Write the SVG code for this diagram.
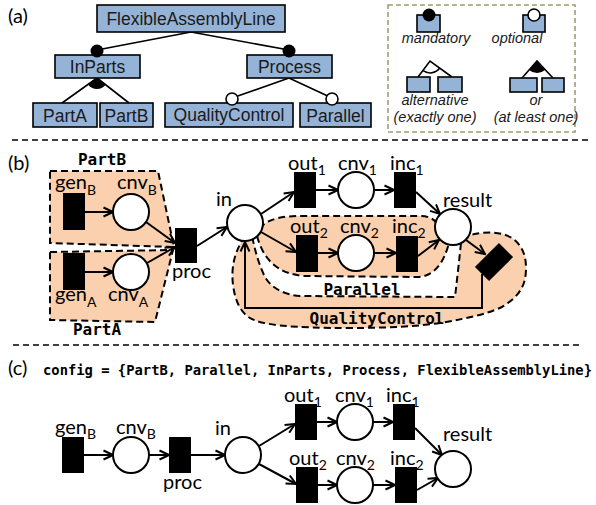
<svg xmlns="http://www.w3.org/2000/svg" width="596" height="505" viewBox="0 0 596 505">
<style>
.fb{fill:#95B3D7;stroke:#000;stroke-width:1.6}
.ft{font-family:"Liberation Sans",Arial,sans-serif;font-size:17.5px;fill:#1a1a1a;text-anchor:middle}
.lt{font-family:"Liberation Sans",Arial,sans-serif;font-size:14.5px;font-style:italic;fill:#1a1a1a;text-anchor:middle}
.ln{stroke:#000;stroke-width:1.6;fill:none}
.sec{font-family:Lato,"Liberation Sans",sans-serif;font-size:20px;fill:#000}
.lb{font-family:Lato,"Liberation Sans",sans-serif;font-size:20px;fill:#000}
.sub{font-size:14px}
.mono{font-family:"DejaVu Sans Mono","Liberation Mono",monospace;font-weight:bold;font-size:16px;fill:#000;text-anchor:middle}
.tr{fill:#000}
.pl{fill:#fff;stroke:#000;stroke-width:2}
.ar{stroke:#000;stroke-width:2;fill:none;marker-end:url(#ah)}
.rg{fill:#FAD0AE;stroke:#000;stroke-width:2;stroke-dasharray:7 4}
.sep{stroke:#000;stroke-width:1.5;stroke-dasharray:6 4;fill:none}
</style>
<defs>
<marker id="ah" viewBox="0 0 12 12" refX="10.5" refY="6" markerWidth="12" markerHeight="12" markerUnits="userSpaceOnUse" orient="auto">
<path d="M1,1.5 L10.5,6 L1,10.5" fill="none" stroke="#000" stroke-width="2"/>
</marker>
</defs>

<!-- (a) feature model -->
<text class="sec" x="8" y="23">(a)</text>
<g id="connectors-a">
<path class="ln" d="M191,32 L97,50 M191,32 L289,50"/>
<path class="ln" d="M97,78 L62,103 M97,78 L129,103"/>
<path d="M97,78 L88.1,84.4 A11,11 0 0 0 105.7,84.8 Z" fill="#000"/>
<path class="ln" d="M289,78 L232,98 M289,78 L332,98"/>
</g>
<g id="FlexibleAssemblyLine"><rect class="fb" x="97" y="5" width="188" height="27"/><text class="ft" x="191" y="25">FlexibleAssemblyLine</text></g>
<g id="InParts"><rect class="fb" x="55" y="55" width="85" height="23"/><text class="ft" x="97.5" y="73">InParts</text><circle cx="97" cy="51" r="6.5" fill="#000"/></g>
<g id="Process"><rect class="fb" x="247" y="55" width="85" height="23"/><text class="ft" x="289.5" y="73">Process</text><circle cx="289" cy="51" r="6.5" fill="#000"/></g>
<g id="PartA"><rect class="fb" x="33" y="103" width="64" height="24"/><text class="ft" x="65" y="122">PartA</text></g>
<g id="PartB"><rect class="fb" x="100" y="103" width="53" height="24"/><text class="ft" x="126.5" y="122">PartB</text></g>
<g id="QualityControl"><rect class="fb" x="165" y="103" width="128" height="24"/><text class="ft" x="229" y="121">QualityControl</text><circle cx="232" cy="99" r="6" fill="#fff" stroke="#000" stroke-width="1.6"/></g>
<g id="Parallel"><rect class="fb" x="300" y="103" width="71" height="24"/><text class="ft" x="335.5" y="122">Parallel</text><circle cx="332" cy="99" r="6" fill="#fff" stroke="#000" stroke-width="1.6"/></g>

<g id="legend">
<rect x="388" y="5" width="187" height="127" fill="none" stroke="#A39B76" stroke-width="1.6" stroke-dasharray="5 3"/>
<rect class="fb" x="417" y="15" width="23" height="17"/><circle cx="429" cy="15" r="6.5" fill="#000"/>
<text class="lt" x="436" y="43">mandatory</text>
<rect class="fb" x="523" y="15" width="22" height="17"/><circle cx="534" cy="15" r="6" fill="#fff" stroke="#000" stroke-width="1.6"/>
<text class="lt" x="517" y="43">optional</text>
<path class="ln" d="M418,77 L430,61 L452,77"/>
<path class="ln" d="M423.1,70.7 A12,12 0 0 0 439.7,68.1"/>
<rect class="fb" x="407" y="77" width="23" height="15"/><rect class="fb" x="438" y="77" width="24" height="15"/>
<text class="lt" x="435" y="105">alternative</text>
<text class="lt" x="435" y="122">(exactly one)</text>
<path class="ln" d="M522,78 L537,61 L553,78"/>
<path d="M537,61 L529.1,70 A12,12 0 0 0 545,69.9 Z" fill="#000"/>
<rect class="fb" x="510" y="78" width="27" height="14"/><rect class="fb" x="542" y="78" width="22" height="14"/>
<text class="lt" x="536" y="105">or</text>
<text class="lt" x="536" y="122">(at least one)</text>
</g>

<path class="sep" d="M12,140 L588,140"/>

<!-- (b) -->
<text class="sec" x="8" y="170">(b)</text>
<g id="regions-b">
<path id="region-PartB" class="rg" d="M50,171 L158,171 L174,247 L50,243 Z"/>
<path id="region-PartA" class="rg" d="M50,252 L173,250 L155,322 L50,320 Z"/>
<path id="region-QualityControl" class="rg" d="M245,236 C234,252 231,268 233,285 C235,300 240,312 250,318 C262,325 290,328 350,328 C390,328 420,326 440,323 C470,318 495,312 505,305 C520,295 526,285 526,268 C526,255 522,245 512,238 C500,231 485,231 466,236 L461,243 C459,262 457,280 455,297 L300,296 C285,295 270,288 264,275 C258,262 255,250 252,236 Z"/>
<path id="region-Parallel" class="rg" d="M257,236 C263,258 276,274 305,276 L418,277 C435,276 444,262 449,243 L440,228 C436,220 430,216 420,216 L300,216 C285,216 270,218 262,226 Z"/>
<text class="mono" x="102" y="165">PartB</text>
<text class="mono" x="97" y="335">PartA</text>
<text class="mono" x="362" y="295">Parallel</text>
<text class="mono" x="377" y="324">QualityControl</text>
</g>
<g id="connectors-b">
<path class="ar" d="M85,212 L113,212"/>
<path class="ar" d="M85,272 L113,272"/>
<path class="ar" d="M146,222 L175,243"/>
<path class="ar" d="M147,263 L175,247"/>
<path class="ar" d="M197,246 L227,227"/>
<path class="ar" d="M261,214 L294,192"/>
<path class="ar" d="M261,232 L296,252"/>
<path class="ar" d="M316,190 L338,190"/>
<path class="ar" d="M374,190 L394,190"/>
<path class="ar" d="M416,192 L440,214"/>
<path class="ar" d="M318,253 L338,253"/>
<path class="ar" d="M374,253 L396,253"/>
<path class="ar" d="M418,256 L439,240"/>
<path class="ar" d="M466,240 L485,254"/>
<path class="ar" d="M482,274 L482,308 L245,308 L245,242"/>
</g>
<g id="b-genB"><rect class="tr" x="63" y="193" width="22" height="37"/><text class="lb" x="55" y="189">gen<tspan class="sub" dy="6">B</tspan></text></g>
<g id="b-cnvB"><circle class="pl" cx="131" cy="212" r="18"/><text class="lb" x="117" y="189">cnv<tspan class="sub" dy="6">B</tspan></text></g>
<g id="b-genA"><rect class="tr" x="63" y="253" width="22" height="37"/><text class="lb" x="55" y="301">gen<tspan class="sub" dy="6">A</tspan></text></g>
<g id="b-cnvA"><circle class="pl" cx="131" cy="272" r="18"/><text class="lb" x="108" y="301">cnv<tspan class="sub" dy="6">A</tspan></text></g>
<g id="b-proc"><rect class="tr" x="175" y="228" width="22" height="35"/><text class="lb" x="172" y="278">proc</text></g>
<g id="b-in"><circle class="pl" cx="245" cy="223" r="18"/><text class="lb" x="216" y="206">in</text></g>
<g id="b-out1"><rect class="tr" x="294" y="172" width="22" height="36"/><text class="lb" x="288" y="170">out<tspan class="sub" dy="5">1</tspan></text></g>
<g id="b-cnv1"><circle class="pl" cx="356" cy="190" r="18"/><text class="lb" x="338" y="170">cnv<tspan class="sub" dy="5">1</tspan></text></g>
<g id="b-inc1"><rect class="tr" x="394" y="172" width="22" height="36"/><text class="lb" x="390" y="170">inc<tspan class="sub" dy="5">1</tspan></text></g>
<g id="b-result"><circle class="pl" cx="453" cy="227" r="18"/><text class="lb" x="443" y="207">result</text></g>
<g id="b-out2"><rect class="tr" x="296" y="235" width="22" height="37"/><text class="lb" x="290" y="233">out<tspan class="sub" dy="5">2</tspan></text></g>
<g id="b-cnv2"><circle class="pl" cx="356" cy="253" r="18"/><text class="lb" x="340" y="233">cnv<tspan class="sub" dy="5">2</tspan></text></g>
<g id="b-inc2"><rect class="tr" x="396" y="236" width="22" height="36"/><text class="lb" x="392" y="233">inc<tspan class="sub" dy="5">2</tspan></text></g>
<g id="b-qc"><rect class="tr" x="484" y="245" width="20" height="34" transform="rotate(45 494 262)"/></g>

<path class="sep" d="M13,345 L580,345"/>

<!-- (c) -->
<text class="sec" x="8" y="375">(c)</text>
<text class="mono" x="43" y="375" style="text-anchor:start;font-size:13.8px" textLength="549" lengthAdjust="spacingAndGlyphs">config = {PartB, Parallel, InParts, Process, FlexibleAssemblyLine}</text>
<g id="connectors-c">
<path class="ar" d="M84,455 L113,455"/>
<path class="ar" d="M149,455 L169,455"/>
<path class="ar" d="M191,455 L225,455"/>
<path class="ar" d="M259,446 L295,424"/>
<path class="ar" d="M259,464 L296,484"/>
<path class="ar" d="M317,422 L337,422"/>
<path class="ar" d="M373,422 L393,422"/>
<path class="ar" d="M415,428 L442,455"/>
<path class="ar" d="M318,485 L337,485"/>
<path class="ar" d="M373,485 L395,485"/>
<path class="ar" d="M417,490 L438,478"/>
</g>
<g id="c-genB"><rect class="tr" x="62" y="437" width="22" height="36"/><text class="lb" x="55" y="434">gen<tspan class="sub" dy="5">B</tspan></text></g>
<g id="c-cnvB"><circle class="pl" cx="131" cy="455" r="18"/><text class="lb" x="116" y="434">cnv<tspan class="sub" dy="5">B</tspan></text></g>
<g id="c-proc"><rect class="tr" x="169" y="437" width="22" height="36"/><text class="lb" x="163" y="489">proc</text></g>
<g id="c-in"><circle class="pl" cx="243" cy="455" r="18"/><text class="lb" x="215" y="435">in</text></g>
<g id="c-out1"><rect class="tr" x="295" y="404" width="22" height="36"/><text class="lb" x="284" y="402">out<tspan class="sub" dy="5">1</tspan></text></g>
<g id="c-cnv1"><circle class="pl" cx="355" cy="422" r="18"/><text class="lb" x="335" y="402">cnv<tspan class="sub" dy="5">1</tspan></text></g>
<g id="c-inc1"><rect class="tr" x="393" y="404" width="22" height="36"/><text class="lb" x="386" y="402">inc<tspan class="sub" dy="5">1</tspan></text></g>
<g id="c-result"><circle class="pl" cx="453" cy="469" r="18"/><text class="lb" x="443" y="441">result</text></g>
<g id="c-out2"><rect class="tr" x="296" y="467" width="22" height="36"/><text class="lb" x="289" y="465">out<tspan class="sub" dy="5">2</tspan></text></g>
<g id="c-cnv2"><circle class="pl" cx="355" cy="485" r="18"/><text class="lb" x="336" y="465">cnv<tspan class="sub" dy="5">2</tspan></text></g>
<g id="c-inc2"><rect class="tr" x="395" y="467" width="22" height="36"/><text class="lb" x="390" y="465">inc<tspan class="sub" dy="5">2</tspan></text></g>
</svg>
